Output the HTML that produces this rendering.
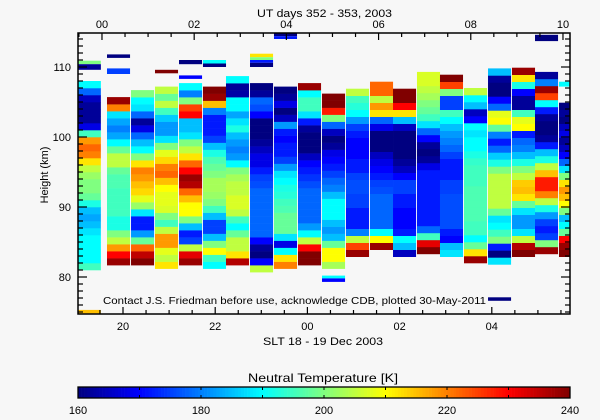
<!DOCTYPE html>
<html><head><meta charset="utf-8"><style>
html,body{margin:0;padding:0;background:#f7f7f7;}
svg{display:block;font-family:"Liberation Sans",sans-serif;}
</style></head><body>
<svg id="chart" width="600" height="420" viewBox="0 0 600 420" xmlns="http://www.w3.org/2000/svg">
<rect x="0" y="0" width="600" height="420" fill="#f7f7f7"/>
<g id="cells"></g>
<g id="axes"></g>
<text x="257" y="17" font-size="11" textLength="135" lengthAdjust="spacingAndGlyphs">UT days 352 - 353, 2003</text>
<text x="263" y="345" font-size="11" textLength="120" lengthAdjust="spacingAndGlyphs">SLT 18 - 19 Dec 2003</text>
<text transform="translate(48,175) rotate(-90)" font-size="11" text-anchor="middle">Height (km)</text>
<text x="103" y="304" font-size="10.5" textLength="383" lengthAdjust="spacingAndGlyphs">Contact J.S. Friedman before use, acknowledge CDB, plotted 30-May-2011</text>
<text x="248" y="382" font-size="12" textLength="150" lengthAdjust="spacingAndGlyphs">Neutral Temperature [K]</text>
<g id="cbar"></g>
</svg>
<script>
// ---- data ----
const colStart = [19.02,19.653,20.174,20.694,21.215,21.735,22.234,22.755,23.275,23.796,24.317,24.837,25.358,25.857,26.377,26.876,27.397,27.918,28.438,28.937,29.458];
const colBottom = [81,81.7,81.7,81.2,81.7,81.2,81.7,80.7,81.2,81.7,81.2,82.9,83.9,82.9,83.3,82.9,82,81.8,82.9,83.3,82.9];
const col0 = [195,190,190,190,190,188,185,183,185,192,198,200,200,202,205,212,220,222,218,195,168,162,162,162,165,178,190];
const col1 = [238,230,218,205,200,192,192,195,195,195,195,196,196,198,205,205,198,190,183,180,183,188,220,238];
const col2 = [240,235,222,198,182,172,172,188,202,208,213,215,218,220,212,200,190,185,178,168,162,178,188,190,200];
const col3 = [212,205,208,218,218,205,195,200,207,208,208,210,215,222,220,213,208,200,188,182,182,186,195,205,198,205];
const col4 = [238,232,205,175,172,185,200,210,210,215,222,236,238,230,222,212,205,200,188,185,185,230,225,200,180,190];
const col5 = [190,195,210,200,185,175,175,185,195,200,202,203,203,200,198,196,192,185,175,172,172,172,180,215,238,240];
const col6 = [236,212,205,205,198,190,195,205,207,207,205,205,203,200,190,182,180,182,185,192,188,183,190,190,163,162,190];
const col7 = [205,170,160,162,170,178,178,178,178,178,178,178,176,175,172,168,168,165,162,160,160,160,170,176,178,162,160];
const col8 = [220,212,190,168,188,198,198,198,196,195,193,192,190,188,182,175,172,172,170,172,182,165,160,168,162,160];
const col9 = [240,240,230,205,190,182,178,178,178,178,178,176,174,172,170,165,160,160,160,162,172,188,195,195,190,238];
const col10 = [203,210,210,198,185,182,185,190,190,190,185,180,178,175,172,170,168,162,160,165,178,200,228,240,240];
const col11 = [238,225,205,180,172,172,172,175,175,176,176,175,172,172,170,170,170,172,175,182,190,193,195,205];
const col12 = [238,210,190,178,178,178,178,178,176,175,172,170,168,165,160,160,160,168,178,212,218,205,222,222];
const col13 = [165,185,190,172,170,170,170,172,172,175,175,170,165,162,160,160,160,160,165,185,212,230,240,240];
const col14 = [240,232,195,178,172,172,172,172,172,172,172,172,168,162,160,162,170,178,188,195,198,200,203,205,207,207];
const col15 = [188,185,170,172,176,176,176,176,176,175,175,172,172,172,175,178,180,182,185,190,195,175,175,200,225,240];
const col16 = [238,212,198,190,195,195,196,196,196,196,196,195,195,195,194,192,190,190,188,190,170,165,185,190,205];
const col17 = [188,160,172,200,195,190,188,198,205,205,205,205,205,200,192,186,178,172,180,198,210,208,178,170,160,160,162,185];
const col18 = [240,236,205,188,182,182,188,198,212,215,214,205,200,192,185,180,178,172,210,208,195,162,162,170,192,212,238];
const col19 = [238,200,175,172,175,182,192,205,220,228,228,215,205,192,185,172,162,160,160,162,172,190,225,238,180,162];
const col20 = [240,238,230,198,190,185,200,210,215,218,212,200,188,178,170,165,162,168,165,160,162,160];
const columns = [col0,col1,col2,col3,col4,col5,col6,col7,col8,col9,col10,col11,col12,col13,col14,col15,col16,col17,col18,col19,col20];
// floating fragments: column index, bottom km, top km, value
const fragCol = [0,0,0,1,1,3,4,4,5,5,7,7,7,7,8,8,10,10,17,19,20];
const fragLo  = [110.4,109.6,74.8,111.3,109,109.1,110.4,108.3,110.5,110,111.4,111,110.6,110,114.4,114,79.8,79.3,76.6,113.7,107.2];
const fragHi  = [110.9,110.4,75.3,111.8,109.8,109.6,111,108.8,111,110.5,111.9,111.4,111,110.6,114.8,114.4,80.2,79.8,77.1,114.6,107.9];
const fragVal = [200,162,215,160,175,240,160,170,190,160,212,200,172,160,160,172,190,170,160,160,190];
const yMajor = [80,90,100,110];
const xMajor = [20,22,24,26,28];
const xMajorLabels = ["20","22","00","02","04"];
const utMajor = [0,2,4,6,8,10];
const utLabels = ["00","02","04","06","08","10"];
const cbTicks = [160,170,180,190,200,210,220,230,240];
const cbLabels = [160,180,200,220,240];

// ---- scales ----
const X0=78,X1=570,Y0=33,Y1=314;
function xs(h){return 123+(h-20)*46.1;}
function ys(k){return 277-(k-80)*7.0;}
const utOffset=19.544;
function jet(v){
  let t=Math.max(0,Math.min(1,(v-160)/80));
  function f(a){return Math.max(0,Math.min(1,a));}
  const r=f(Math.min(4*t-1.5,-4*t+4.5)), g=f(Math.min(4*t-0.5,-4*t+3.5)), b=f(Math.min(4*t+0.5,-4*t+2.5));
  return `rgb(${Math.round(r*255)},${Math.round(g*255)},${Math.round(b*255)})`;
}
const NS="http://www.w3.org/2000/svg";
function mk(tag,attrs,parent){const e=document.createElementNS(NS,tag);for(const k in attrs)e.setAttribute(k,attrs[k]);parent.appendChild(e);return e;}
const cells=document.getElementById('cells');
const axes=document.getElementById('axes');
const cbar=document.getElementById('cbar');

columns.forEach((vals,ci)=>{
  const xa=xs(colStart[ci]), xb=Math.min(xs(colStart[ci]+0.5),X1);
  vals.forEach((v,j)=>{
    const lo=colBottom[ci]+j, hi=lo+1;
    const r=mk('rect',{x:xa.toFixed(2),y:ys(hi).toFixed(2),width:(xb-xa).toFixed(2),height:(ys(lo)-ys(hi)+0.3).toFixed(2),fill:jet(v)},cells);
    
    
  });
});
fragCol.forEach((ci,i)=>{
  const xa=xs(colStart[ci]), xb=Math.min(xs(colStart[ci]+0.5),X1);
  const r=mk('rect',{x:xa.toFixed(2),y:ys(fragHi[i]).toFixed(2),width:(xb-xa).toFixed(2),height:(ys(fragLo[i])-ys(fragHi[i])).toFixed(2),fill:jet(fragVal[i])},cells);
  
  
});

const fr=mk('rect',{x:X0,y:Y0,width:X1-X0,height:Y1-Y0,fill:'none',stroke:'#000','stroke-width':1.5},axes);


for(let k=75;k<=114;k++){
  const y=ys(k); if(y<Y0||y>Y1)continue;
  const L=(k%10===0)?9:5;
  mk('line',{x1:X0,y1:y,x2:X0+L,y2:y,stroke:'#000','stroke-width':1.2},axes);
  mk('line',{x1:X1,y1:y,x2:X1-L,y2:y,stroke:'#000','stroke-width':1.2},axes);
}
yMajor.forEach(k=>{
  const t=mk('text',{x:71,y:ys(k)+4,'font-size':11,'text-anchor':'end'},axes);
  t.textContent=String(k);
  
  
});
for(let h=19.5;h<=29.6;h+=0.5){
  const x=xs(h); if(x<X0||x>X1)continue;
  const L=(Math.abs(h%2)<0.01)?7:4;
  mk('line',{x1:x,y1:Y1,x2:x,y2:Y1-L,stroke:'#000','stroke-width':1.2},axes);
}
xMajor.forEach((h,i)=>{
  const t=mk('text',{x:xs(h),y:330,'font-size':11,'text-anchor':'middle'},axes);
  t.textContent=xMajorLabels[i];
  
  
});
for(let u=-0.5;u<=10.2;u+=0.5){
  const x=xs(u+utOffset); if(x<X0||x>X1)continue;
  const L=(Math.abs(u%2)<0.01)?7:4;
  mk('line',{x1:x,y1:Y0,x2:x,y2:Y0+L,stroke:'#000','stroke-width':1.2},axes);
}
utMajor.forEach((u,i)=>{
  const t=mk('text',{x:Math.min(xs(u+utOffset),564),y:28,'font-size':11,'text-anchor':'middle'},axes);
  t.textContent=utLabels[i];
  
  
});
function cx(v){return 78+(v-160)*(570-78)/80;}
for(let v=160;v<240;v+=0.5){
  mk('rect',{x:cx(v).toFixed(2),y:387,width:(cx(v+0.5)-cx(v)+0.3).toFixed(2),height:11,fill:jet(v+0.25)},cbar);
}
mk('rect',{x:78,y:387,width:492,height:11,fill:'none',stroke:'#000','stroke-width':1.3},cbar);
cbTicks.forEach(v=>{
  mk('line',{x1:cx(v),y1:387,x2:cx(v),y2:390,stroke:'#000','stroke-width':1},cbar);
  mk('line',{x1:cx(v),y1:398,x2:cx(v),y2:395,stroke:'#000','stroke-width':1},cbar);
});
cbLabels.forEach(v=>{
  const t=mk('text',{x:cx(v),y:414,'font-size':11,'text-anchor':'middle'},cbar);
  t.textContent=String(v);
  
  
});
</script>
</body></html>
